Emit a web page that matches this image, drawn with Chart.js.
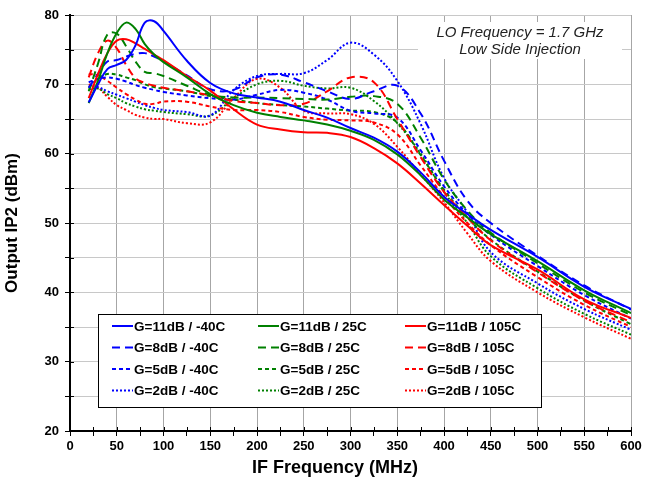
<!DOCTYPE html>
<html lang="en">
<head>
<meta charset="UTF-8">
<title>Output IP2 vs IF Frequency</title>
<script src="https://cdn.jsdelivr.net/npm/chart.js"></script>
<style>
  body { margin: 0; background: #fff; }
  #wrap { width: 648px; height: 481px; }
</style>
</head>
<body>
<div id="wrap"><canvas id="ip2Chart" width="648" height="481"></canvas></div>
<script>
// IF frequency points (MHz)
const freqMHz = [20, 30, 40, 50, 60, 70, 80, 90, 100, 125, 150, 175, 200, 225, 250, 275, 300, 325, 350, 375, 400, 425, 450, 500, 550, 600];

// Output IP2 (dBm), gain / temperature
const g11_m40  = [67.4, 70.0, 72.2, 72.8, 73.5, 75.6, 78.9, 79.1, 77.7, 73.4, 70.2, 68.7, 68.1, 67.5, 66.3, 65.2, 63.7, 62.3, 60.3, 57.3, 53.8, 51.3, 49.0, 45.1, 40.8, 37.6];
const g11_25   = [67.3, 70.5, 74.5, 77.4, 78.9, 78.0, 75.8, 74.3, 73.2, 71.0, 68.6, 67.0, 65.9, 65.3, 64.8, 64.2, 63.3, 62.0, 59.9, 56.9, 53.4, 50.8, 48.4, 44.5, 40.3, 37.0];
const g11_105  = [68.0, 71.5, 74.5, 76.3, 76.5, 75.9, 75.1, 74.3, 73.5, 71.2, 69.1, 66.4, 64.2, 63.5, 63.1, 63.0, 62.4, 60.8, 58.6, 55.7, 52.6, 49.6, 46.8, 43.3, 39.0, 36.3];
const g8_m40   = [69.5, 71.5, 73.3, 73.5, 74.0, 74.4, 74.5, 74.0, 73.3, 71.3, 69.3, 69.2, 71.0, 71.4, 70.3, 69.0, 67.9, 69.0, 69.8, 65.8, 59.0, 53.2, 50.0, 45.3, 41.0, 37.5];
const g8_25    = [69.0, 73.0, 77.2, 77.3, 75.5, 73.3, 71.8, 71.6, 71.2, 69.8, 68.5, 68.1, 68.1, 68.0, 67.9, 67.8, 68.2, 68.3, 67.2, 62.3, 56.3, 51.8, 48.6, 44.2, 40.0, 36.7];
const g8_105   = [71.0, 74.5, 76.3, 75.2, 72.8, 70.9, 70.2, 69.8, 69.5, 69.0, 68.4, 67.6, 67.3, 67.0, 67.2, 69.0, 71.0, 70.3, 65.0, 59.5, 54.5, 50.8, 47.5, 42.9, 38.8, 35.7];
const g5_m40   = [70.3, 70.8, 71.0, 70.8, 70.4, 69.9, 69.5, 69.2, 68.9, 68.4, 68.0, 67.8, 68.5, 69.2, 68.8, 67.8, 66.2, 65.8, 65.2, 60.5, 55.3, 51.3, 48.3, 43.8, 39.6, 36.2];
const g5_25    = [69.5, 70.8, 71.5, 71.4, 71.0, 70.6, 70.0, 69.6, 69.4, 69.0, 68.3, 67.8, 67.3, 67.0, 66.8, 66.5, 66.2, 66.0, 64.5, 59.8, 54.8, 50.8, 47.6, 43.0, 38.8, 35.4];
const g5_105   = [71.5, 71.3, 70.5, 69.5, 68.6, 67.8, 67.2, 67.2, 67.5, 67.5, 66.8, 66.3, 66.3, 66.0, 65.3, 64.9, 64.8, 64.5, 62.8, 58.3, 53.8, 50.0, 46.8, 42.2, 38.2, 35.0];
const g2_m40   = [69.7, 69.6, 69.0, 68.5, 68.0, 67.5, 67.0, 66.6, 66.3, 66.0, 65.5, 69.2, 71.2, 71.5, 71.6, 73.5, 76.0, 74.3, 70.5, 64.3, 56.5, 51.5, 45.8, 41.3, 37.6, 34.6];
const g2_25    = [69.3, 69.4, 68.6, 68.0, 67.3, 66.8, 66.4, 66.2, 66.0, 65.7, 65.5, 68.0, 70.0, 70.5, 69.8, 69.4, 69.5, 67.6, 64.4, 60.0, 54.5, 50.0, 45.2, 40.6, 36.9, 33.9];
const g2_105   = [70.0, 69.5, 68.2, 67.0, 66.3, 65.6, 65.2, 65.0, 65.0, 64.4, 64.5, 68.0, 70.8, 69.5, 66.2, 65.8, 65.7, 64.3, 61.0, 57.0, 53.0, 48.5, 44.5, 40.0, 36.4, 33.3];

const seriesLabels = [
    "G=11dB / -40C", "G=11dB / 25C", "G=11dB / 105C",
    "G=8dB / -40C", "G=8dB / 25C", "G=8dB / 105C",
    "G=5dB / -40C", "G=5dB / 25C", "G=5dB / 105C",
    "G=2dB / -40C", "G=2dB / 25C", "G=2dB / 105C"
];
const seriesValues = [g11_m40, g11_25, g11_105, g8_m40, g8_25, g8_105, g5_m40, g5_25, g5_105, g2_m40, g2_25, g2_105];

const colors = ["#0000ff", "#008000", "#ff0000"];
const dashes = [[], [8, 5], [4, 3], [2, 2]];
const FONT = "'Liberation Sans', Arial, sans-serif";

const datasets = seriesValues.map((vals, i) => ({
    label: seriesLabels[i],
    data: freqMHz.map((f, k) => ({ x: f, y: vals[k] })),
    borderColor: colors[i % 3],
    borderDash: dashes[Math.floor(i / 3)],
    borderWidth: 2,
    pointRadius: 0,
    tension: 0.4,
    fill: false
}));

// white note box in upper right
const noteBox = {
    id: 'noteBox',
    beforeDatasetsDraw(chart) {
        const ctx = chart.ctx;
        ctx.save();
        ctx.fillStyle = "#fff";
        ctx.fillRect(418, 22, 204, 37);
        ctx.fillStyle = "#222";
        ctx.font = "italic 15px " + FONT;
        ctx.textAlign = "center";
        ctx.textBaseline = "middle";
        ctx.fillText("LO Frequency = 1.7 GHz", 520, 33);
        ctx.fillText("Low Side Injection", 520, 50);
        ctx.restore();
    }
};

// legend drawn inside the plot, 3 columns
const boxLegend = {
    id: 'boxLegend',
    afterDatasetsDraw(chart) {
        const ctx = chart.ctx;
        const cols = [112, 258, 405];
        const rows = [326, 347.5, 369, 390.5];
        ctx.save();
        ctx.fillStyle = "#fff";
        ctx.fillRect(98.5, 314.5, 443, 93);
        ctx.strokeStyle = "#000";
        ctx.lineWidth = 1;
        ctx.strokeRect(98.5, 314.5, 443, 93);
        ctx.font = "bold 13.5px " + FONT;
        ctx.textBaseline = "middle";
        chart.data.datasets.forEach((ds, i) => {
            const x = cols[i % 3], y = rows[Math.floor(i / 3)];
            ctx.strokeStyle = ds.borderColor;
            ctx.lineWidth = 2;
            ctx.setLineDash(ds.borderDash);
            ctx.beginPath();
            ctx.moveTo(x, y);
            ctx.lineTo(x + 21, y);
            ctx.stroke();
            ctx.setLineDash([]);
            ctx.fillStyle = "#000";
            ctx.fillText(ds.label, x + 22, y + 1);
        });
        ctx.restore();
    }
};

// x axis title (a bit left of the plot centre) and tick marks that cross the axes
const axisExtras = {
    id: 'axisExtras',
    afterDraw(chart) {
        const ctx = chart.ctx;
        const xs = chart.scales.x, ys = chart.scales.y;
        const area = chart.chartArea;
        ctx.save();
        ctx.strokeStyle = "#000";
        ctx.lineWidth = 1;
        ctx.beginPath();
        ys.ticks.forEach(t => {
            const y = Math.round(ys.getPixelForValue(t.value)) + 0.5;
            ctx.moveTo(area.left, y);
            ctx.lineTo(area.left + 4, y);
        });
        xs.ticks.forEach(t => {
            const x = Math.round(xs.getPixelForValue(t.value)) + 0.5;
            ctx.moveTo(x, area.bottom);
            ctx.lineTo(x, area.bottom - 4);
        });
        ctx.stroke();
        ctx.fillStyle = "#000";
        ctx.font = "bold 18px " + FONT;
        ctx.textAlign = "center";
        ctx.textBaseline = "middle";
        ctx.fillText("IF Frequency (MHz)", 335, 468);
        ctx.restore();
    }
};

new Chart(document.getElementById("ip2Chart"), {
    type: "line",
    data: { datasets: datasets },
    options: {
        responsive: false,
        animation: false,
        layout: { padding: { left: 0, right: 17, top: 15, bottom: 0 } },
        plugins: {
            legend: { display: false },
            tooltip: { enabled: false }
        },
        scales: {
            x: {
                type: "linear",
                min: 0,
                max: 600,
                afterFit: s => { s.height = 50; },
                ticks: {
                    stepSize: 25,
                    autoSkip: false,
                    maxRotation: 0,
                    color: "#000",
                    padding: 3,
                    font: { family: FONT, size: 13, weight: "bold" },
                    callback: v => (v % 50 === 0 ? v : "")
                },
                grid: {
                    color: c => (c.tick && c.tick.value % 50 === 0 ? "#a6a6a6" : "rgba(0,0,0,0)"),
                    tickColor: "#000",
                    tickLength: 5,
                    lineWidth: 1
                },
                border: { color: "#000", width: 2 }
            },
            y: {
                min: 20,
                max: 80,
                afterFit: s => { s.width = 70; },
                ticks: {
                    stepSize: 5,
                    autoSkip: false,
                    color: "#000",
                    padding: 6,
                    font: { family: FONT, size: 13, weight: "bold" },
                    callback: v => (v % 10 === 0 ? v : "")
                },
                grid: {
                    color: "#c8c8c8",
                    tickColor: "#000",
                    tickLength: 5,
                    lineWidth: 1
                },
                border: { color: "#000", width: 2 },
                title: {
                    display: true,
                    text: "Output IP2 (dBm)",
                    color: "#000",
                    padding: { top: 2, bottom: 2 },
                    font: { family: FONT, size: 17, weight: "bold" }
                }
            }
        }
    },
    plugins: [noteBox, boxLegend, axisExtras]
});
</script>
</body>
</html>
